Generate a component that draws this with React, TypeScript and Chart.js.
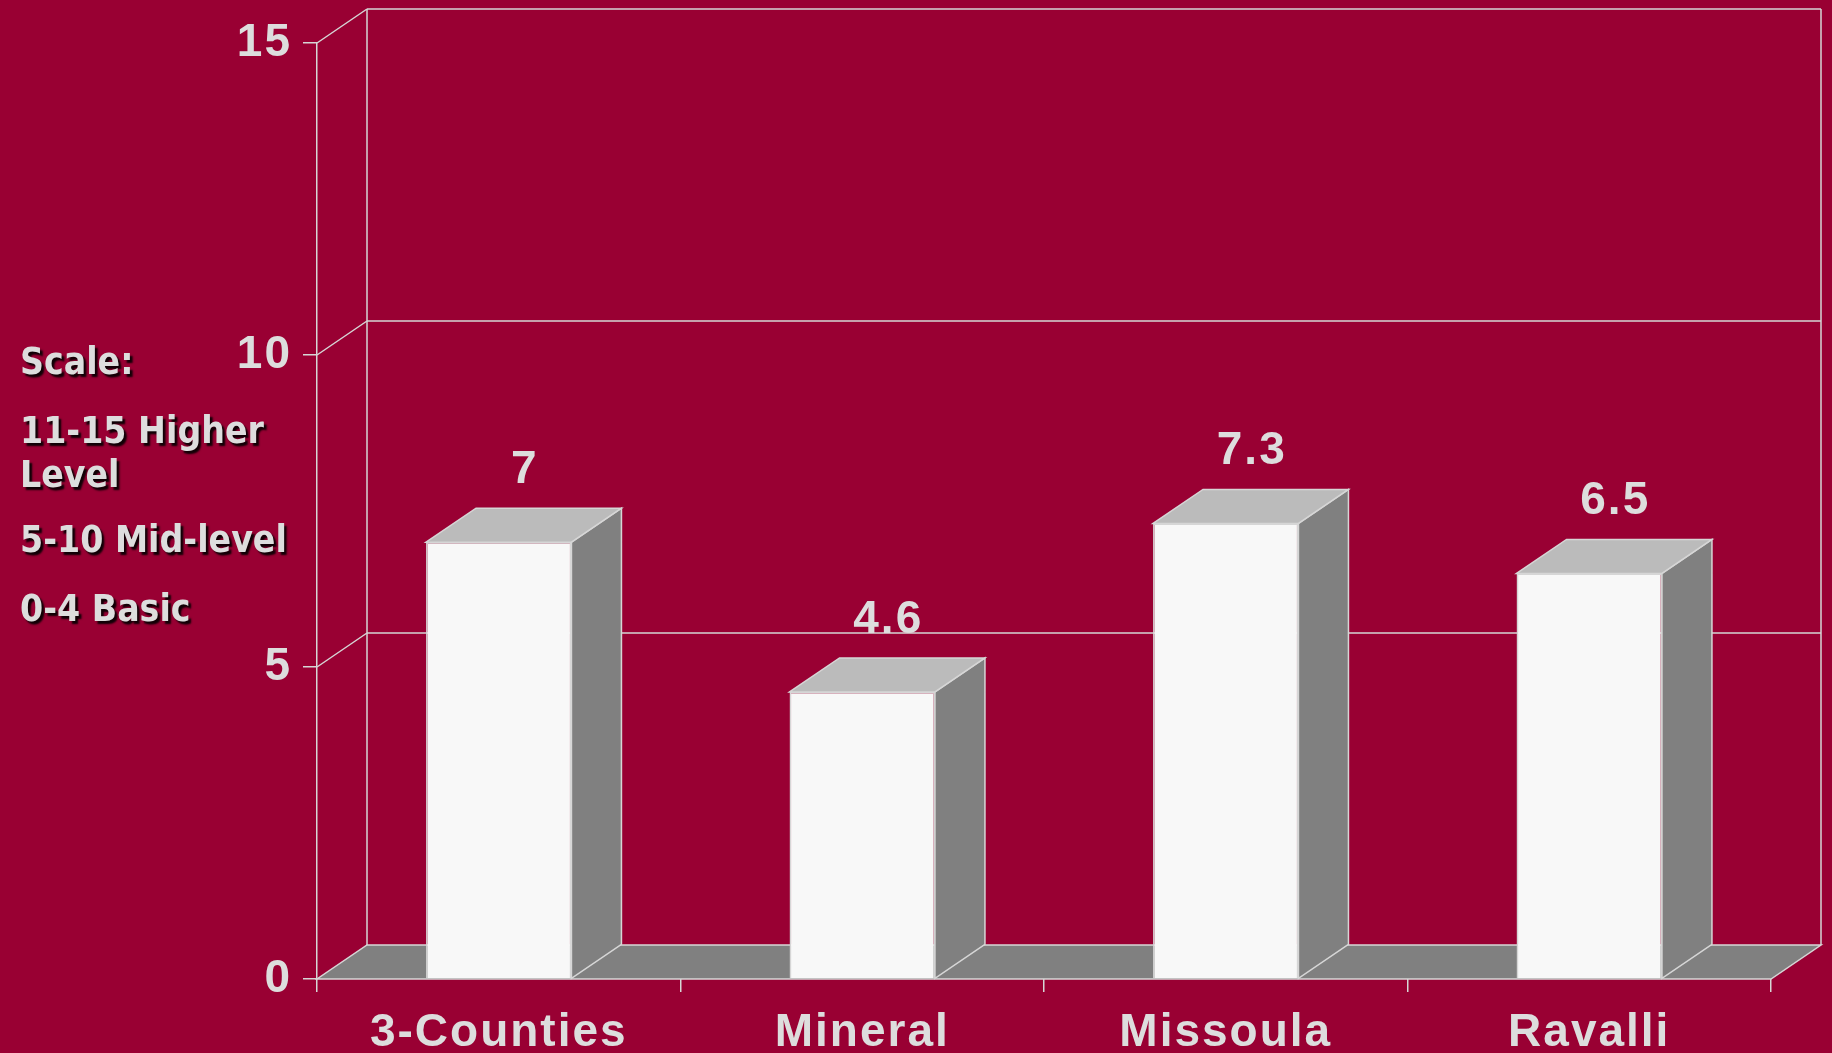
import { useEffect, useRef } from "react";
import { Chart, registerables } from "chart.js";

Chart.register(...registerables);

const categories = ["3-Counties", "Mineral", "Missoula", "Ravalli"];
const scores = [7, 4.6, 7.3, 6.5];
const yTicks = [0, 5, 10, 15];
const scaleNotes = ["Scale:", "11-15 Higher", "Level", "5-10 Mid-level", "0-4 Basic"];
const noteTops = [340, 409, 453, 518, 587];

const BG = "#990033";
const TEXT = "#dddddd";
const EDGE = "#d6d6d6";
const FRONT = "#f8f8f8";
const SIDE = "#808080";
const TOP = "#bbbbbb";
const DX = 50;
const DY = 34;
const LABEL_FONT = { family: "'Liberation Sans', Arial, sans-serif", weight: "bold" as const, size: 46 };

const line = (ctx: CanvasRenderingContext2D, x1: number, y1: number, x2: number, y2: number) => {
    ctx.beginPath();
    ctx.moveTo(x1, y1);
    ctx.lineTo(x2, y2);
    ctx.stroke();
};

const poly = (ctx: CanvasRenderingContext2D, pts: number[][], fill: string) => {
    ctx.beginPath();
    ctx.moveTo(pts[0][0], pts[0][1]);
    pts.slice(1).forEach(p => ctx.lineTo(p[0], p[1]));
    ctx.closePath();
    ctx.fillStyle = fill;
    ctx.fill();
    ctx.stroke();
};

// back wall, side wall and floor, then bar sides/tops and value labels
const threeD = {
    id: "threeD",
    beforeDraw(chart: any) {
        // the labels in the original are a bit wider than plain Arial bold
        (chart.ctx as any).letterSpacing = "2px";
    },
    beforeDatasetsDraw(chart: any) {
        const { ctx, chartArea: { left, right, top, bottom }, scales: { y } } = chart;
        ctx.save();
        ctx.strokeStyle = EDGE;
        ctx.lineWidth = 1.5;
        line(ctx, left + DX, top - DY, left + DX, bottom - DY);
        line(ctx, right + DX, top - DY, right + DX, bottom - DY);
        y.ticks.forEach((t: any) => {
            const py = y.getPixelForValue(t.value);
            if (t.value > 0) {
                line(ctx, left + DX, py - DY, right + DX, py - DY);
                line(ctx, left, py, left + DX, py - DY);
            }
        });
        poly(ctx, [[left, bottom], [right, bottom], [right + DX, bottom - DY], [left + DX, bottom - DY]], SIDE);
        ctx.restore();
    },
    afterDatasetsDraw(chart: any) {
        const { ctx } = chart;
        const meta = chart.getDatasetMeta(0);
        ctx.save();
        ctx.strokeStyle = EDGE;
        ctx.lineWidth = 1.5;
        meta.data.forEach((bar: any, i: number) => {
            const { x, y, base, width } = bar.getProps(["x", "y", "base", "width"], true);
            const l = x - width / 2;
            const r = x + width / 2;
            poly(ctx, [[r, y], [r + DX, y - DY], [r + DX, base - DY], [r, base]], SIDE);
            poly(ctx, [[l, y], [l + DX, y - DY], [r + DX, y - DY], [r, y]], TOP);
            ctx.fillStyle = TEXT;
            ctx.font = `bold ${LABEL_FONT.size}px ${LABEL_FONT.family}`;
            ctx.textAlign = "center";
            ctx.textBaseline = "alphabetic";
            ctx.fillText(String(scores[i]), x + DX / 2 + 1, y - DY - 25);
        });
        ctx.restore();
    },
};

const ScoreChart = () => {
    const chartRef = useRef<HTMLCanvasElement>(null);
    const chartInstance = useRef<Chart | null>(null);

    useEffect(() => {
        if (!chartRef.current) return;
        if (chartInstance.current) chartInstance.current.destroy();

        chartInstance.current = new Chart(chartRef.current, {
            type: "bar",
            data: {
                labels: categories,
                datasets: [{
                    data: scores,
                    backgroundColor: FRONT,
                    borderColor: EDGE,
                    borderWidth: 1.5,
                    barPercentage: 0.4,
                    categoryPercentage: 1,
                }],
            },
            options: {
                animation: false,
                responsive: true,
                maintainAspectRatio: false,
                layout: { padding: { top: 43, right: 61, left: 0, bottom: 0 } },
                plugins: { legend: { display: false }, tooltip: { enabled: false } },
                scales: {
                    x: {
                        grid: { drawOnChartArea: false, offset: true, tickLength: 13, color: EDGE, lineWidth: 1.5 },
                        border: { display: false },
                        ticks: { color: TEXT, font: LABEL_FONT, padding: 14 },
                        afterFit: (s: any) => { s.height = 74; },
                    },
                    y: {
                        min: yTicks[0],
                        max: yTicks[yTicks.length - 1],
                        afterBuildTicks: (s: any) => { s.ticks = yTicks.map(v => ({ value: v })); },
                        grid: { drawOnChartArea: false, tickLength: 14, color: EDGE, lineWidth: 1.5 },
                        border: { display: true, color: EDGE, width: 1.5 },
                        ticks: { color: TEXT, font: LABEL_FONT, padding: 11 },
                        afterFit: (s: any) => { s.width = 317; },
                    },
                },
            },
            plugins: [threeD],
        });

        return () => {
            if (chartInstance.current) {
                chartInstance.current.destroy();
                chartInstance.current = null;
            }
        };
    }, []);

    return <canvas ref={chartRef}></canvas>;
};

const App = () => {
    return (
        <div style={{ position: "fixed", left: 0, top: 0, width: 1832, height: 1053, background: BG, overflow: "hidden" }}>
            <div style={{ position: "absolute", inset: 0 }}>
                <ScoreChart />
            </div>
            {scaleNotes.map((t, i) => (
                <div key={t} style={{
                    position: "absolute", left: 20, top: noteTops[i], lineHeight: "44px",
                    fontFamily: "Tahoma, 'DejaVu Sans', sans-serif", fontWeight: "bold", fontSize: 37,
                    color: TEXT, textShadow: "3px 3px 2px rgba(0,0,0,0.9)", whiteSpace: "nowrap",
                    transform: "scaleX(0.9)", transformOrigin: "left top",
                }}>{t}</div>
            ))}
        </div>
    );
};

export default App;
